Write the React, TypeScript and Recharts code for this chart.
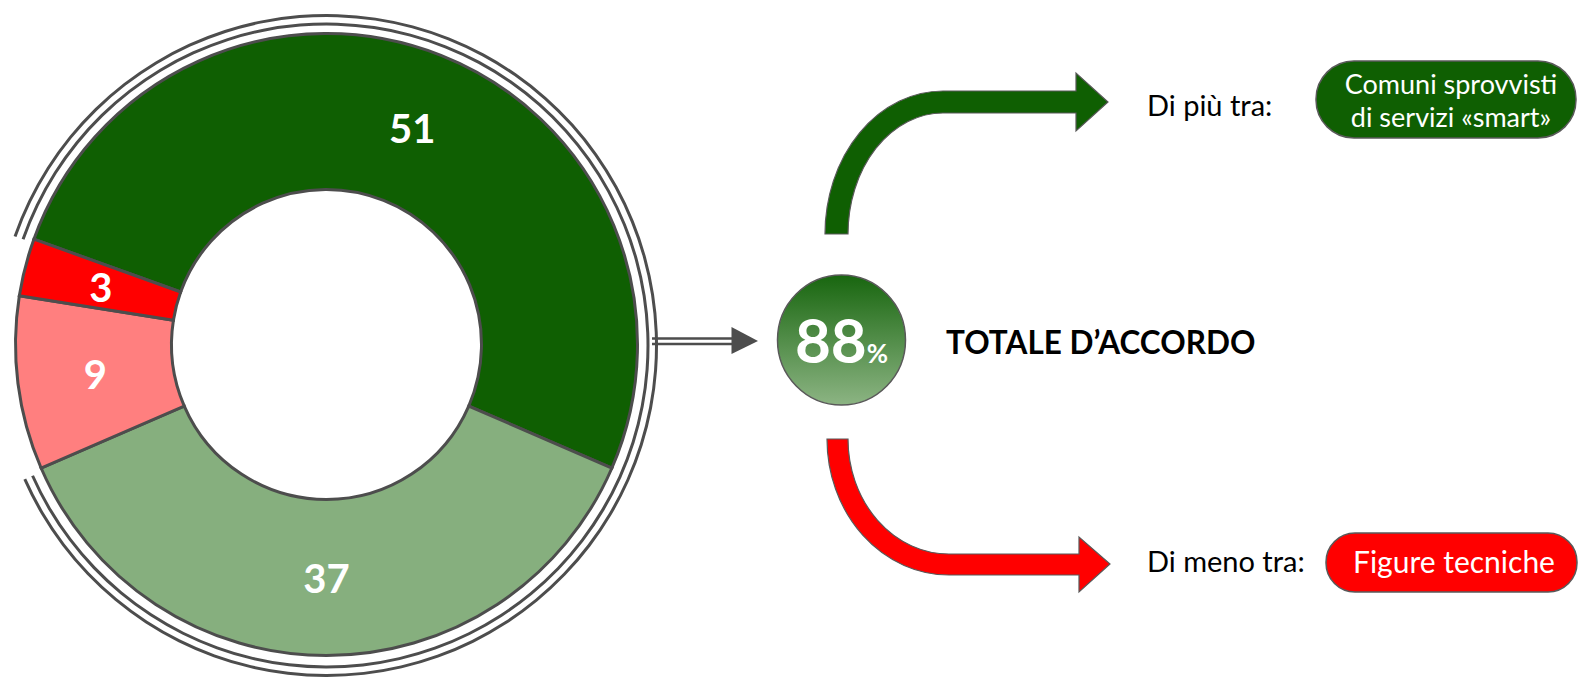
import React from "react";
import { PieChart, Pie, Cell } from "recharts";

const categories = ["Molto d'accordo", "Abbastanza d'accordo", "Poco d'accordo", "Per nulla d'accordo"];
const values = [51, 37, 9, 3];
const colors = ["#0F5F02", "#86AF7E", "#FF7F7F", "#FF0000"];
const agreeGroups = ["Totale d'accordo", "Totale in disaccordo"];
const agreeValues = [values[0] + values[1], values[2] + values[3]];
const totalLabel = "TOTALE D\u2019ACCORDO";
const moreLabel = "Di più tra:";
const moreItems = ["Comuni sprovvisti", "di servizi «smart»"];
const lessLabel = "Di meno tra:";
const lessItems = ["Figure tecniche"];

const pieData = categories.map((c, i) => ({ name: c, value: values[i] }));
const ringData = agreeGroups.map((g, i) => ({ name: g, value: agreeValues[i] }));

const FONT = "Lato, 'Open Sans', sans-serif";
const GRAY = "#4D4D4D";
const START = 160.2;

const renderLabel = (p: any) => {
  const RAD = Math.PI / 180;
  const r = (p.innerRadius + p.outerRadius) / 2;
  const x = p.cx + r * Math.cos(-p.midAngle * RAD);
  const y = p.cy + r * Math.sin(-p.midAngle * RAD);
  return (
    <text x={x} y={y} fill="#fff" fontSize={40} fontWeight={700} textAnchor="middle" dominantBaseline="central" fontFamily={FONT}>
      {p.value}
    </text>
  );
};

export default function App() {
  return (
    <div style={{ position: "absolute", left: 0, top: 0, width: 1578, height: 677, background: "#fff" }}>
      <PieChart width={1578} height={677} margin={{ top: 0, right: 0, bottom: 0, left: 0 }}>
        <defs>
          <linearGradient id="g88" x1="0" y1="0" x2="0" y2="1">
            <stop offset="0" stopColor="#18660F" />
            <stop offset="1" stopColor="#8CB483" />
          </linearGradient>
        </defs>
        <Pie
          data={ringData}
          dataKey="value"
          cx={326.5}
          cy={345.5}
          innerRadius={320}
          outerRadius={323}
          startAngle={START + 0.5}
          endAngle={START + 0.5 - 360}
          stroke="none"
          isAnimationActive={false}
        >
          {ringData.map((d, i) => (
            <Cell key={d.name} fill={i === 0 ? GRAY : "none"} />
          ))}
        </Pie>
        <Pie
          data={ringData}
          dataKey="value"
          cx={326.5}
          cy={345.5}
          innerRadius={328.5}
          outerRadius={331.5}
          startAngle={START + 0.5}
          endAngle={START + 0.5 - 360}
          stroke="none"
          isAnimationActive={false}
        >
          {ringData.map((d, i) => (
            <Cell key={d.name} fill={i === 0 ? GRAY : "none"} />
          ))}
        </Pie>
        <Pie
          data={pieData}
          dataKey="value"
          cx={326.5}
          cy={344.5}
          innerRadius={155}
          outerRadius={311}
          startAngle={START}
          endAngle={START - 360}
          stroke={GRAY}
          strokeWidth={3}
          label={renderLabel}
          labelLine={false}
          isAnimationActive={false}
        >
          {pieData.map((d, i) => (
            <Cell key={d.name} fill={colors[i]} stroke={GRAY} strokeWidth={3} />
          ))}
        </Pie>

        {/* connector double arrow */}
        <g>
          <line x1={652} y1={338.5} x2={734} y2={338.5} stroke={GRAY} strokeWidth={2.5} />
          <line x1={652} y1={344} x2={734} y2={344} stroke={GRAY} strokeWidth={2.5} />
          <path d="M731.5,327 L758,341 L731.5,354 Z" fill={GRAY} />
        </g>

        {/* 88% bubble */}
        <ellipse cx={841.5} cy={340} rx={64} ry={65} fill="url(#g88)" stroke="#595959" strokeWidth={1.5} />
        <text x={841.5} y={363} textAnchor="middle" fill="#fff" fontFamily={FONT} fontWeight={700}>
          <tspan fontSize={62}>{agreeValues[0]}</tspan>
          <tspan fontSize={26}>%</tspan>
        </text>
        <text x={946} y={342} dominantBaseline="central" fill="#000" fontFamily={FONT} fontWeight={700} fontSize={31.5}>
          {totalLabel}
        </text>

        {/* curved arrows */}
        <path
          d="M825,234 A118,143 0 0 1 943,91 L1076,91 L1076,73 L1108,102 L1076,131 L1076,113 L943,113 A95,121 0 0 0 848,234 Z"
          fill="#0F5F02"
          stroke="#595959"
          strokeWidth={1.2}
        />
        <path
          d="M827,439 A122,136 0 0 0 949,575 L1079,575 L1079,592 L1110,564 L1079,537 L1079,554 L949,554 A101,115 0 0 1 848,439 Z"
          fill="#FF0000"
          stroke="#595959"
          strokeWidth={1.2}
        />

        {/* more */}
        <text x={1147} y={104} dominantBaseline="central" fill="#000" fontFamily={FONT} fontSize={29}>
          {moreLabel}
        </text>
        <rect x={1316} y={61} width={260} height={77} rx={38} ry={38} fill="#0F5F02" stroke="#595959" strokeWidth={1.5} />
        {moreItems.map((t, i) => (
          <text key={t} x={1451} y={83 + i * 33} textAnchor="middle" dominantBaseline="central" fill="#fff" fontFamily={FONT} fontSize={27}>
            {t}
          </text>
        ))}

        {/* less */}
        <text x={1147} y={560} dominantBaseline="central" fill="#000" fontFamily={FONT} fontSize={29}>
          {lessLabel}
        </text>
        <rect x={1326} y={533} width={251} height={59} rx={29} ry={29} fill="#FF0000" stroke="#595959" strokeWidth={1.5} />
        {lessItems.map((t) => (
          <text key={t} x={1454} y={561} textAnchor="middle" dominantBaseline="central" fill="#fff" fontFamily={FONT} fontSize={30}>
            {t}
          </text>
        ))}
      </PieChart>
    </div>
  );
}
